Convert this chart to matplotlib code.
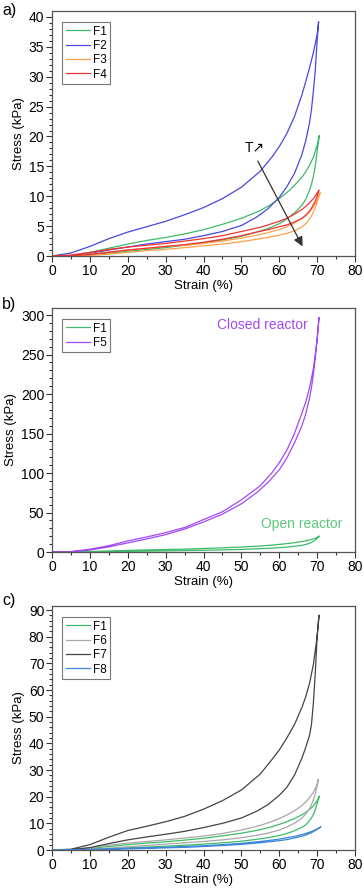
import matplotlib
matplotlib.use('Agg')
import matplotlib.pyplot as plt
import numpy as np

plt.rcParams['font.family'] = ['Liberation Sans', 'DejaVu Sans']

# strain grids (%) shared by all loading / unloading branches
load_strain = [0, 5, 10, 15, 20, 25, 30, 35, 40, 45, 50, 55, 58, 60, 62, 64, 66, 67, 68, 69, 70]
unload_strain = [70, 69.5, 69, 68.5, 68, 67, 66, 64, 62, 60, 57, 54, 50, 45, 40, 35, 30, 25,
                 20, 15, 10, 5, 0]

# peak point (strain, stress) of each sample
peaks = {
    'F1': (70.6, 20.2), 'F2': (70.4, 39.2), 'F3': (70.8, 10.6), 'F4': (70.5, 11.0),
    'F5': (70.5, 297.0), 'F6': (70.3, 26.5), 'F7': (70.5, 88.0), 'F8': (71.0, 8.7),
}

# stress (kPa) on loading
load_stress = {
    'F1': [0, 0.1, 0.6, 1.3, 2.0, 2.6, 3.1, 3.7, 4.4, 5.3, 6.3, 7.6, 8.7, 9.6, 10.6, 11.8, 13.2,
           14.1, 15.2, 16.5, 18.5],
    'F2': [0, 0.5, 1.6, 2.9, 4.0, 4.9, 5.8, 6.9, 8.1, 9.6, 11.5, 14.2, 16.5, 18.3, 20.5, 23.3,
           27.0, 29.2, 31.5, 34.0, 37.0],
    'F3': [0, 0.05, 0.3, 0.7, 1.0, 1.3, 1.6, 1.8, 2.1, 2.5, 3.0, 3.6, 4.1, 4.4, 4.9, 5.5, 6.3,
           6.8, 7.4, 8.2, 9.4],
    'F4': [0, 0.15, 0.6, 1.1, 1.5, 1.8, 2.1, 2.5, 2.9, 3.4, 4.1, 4.8, 5.4, 5.8, 6.3, 7.0, 7.8,
           8.3, 8.9, 9.6, 10.5],
    'F5': [0, 0.5, 3.5, 8, 14, 19, 24.5, 31, 41, 51, 66, 84, 100, 113, 129, 150, 176, 190, 208,
           232, 268],
    'F6': [0, 0.1, 0.8, 1.8, 2.6, 3.2, 3.8, 4.5, 5.2, 6.2, 7.5, 9.2, 10.7, 11.8, 13.1, 14.7,
           16.7, 18.0, 19.6, 21.6, 24.5],
    'F7': [0, 0.3, 2.0, 4.8, 7.3, 8.9, 10.6, 12.6, 15.3, 18.5, 22.5, 28.5, 33.8, 37.5, 42, 47,
           53.5, 57.5, 62.5, 69.5, 80],
    'F8': [0, 0.05, 0.2, 0.45, 0.65, 0.85, 1.05, 1.3, 1.6, 2.0, 2.5, 3.2, 3.7, 4.1, 4.6, 5.1,
           5.8, 6.2, 6.7, 7.2, 7.9],
}

# stress (kPa) on unloading
unload_stress = {
    'F1': [17.5, 15.0, 13.3, 12.0, 11.0, 9.5, 8.5, 7.2, 6.2, 5.4, 4.6, 4.0, 3.3, 2.7, 2.2, 1.8,
           1.4, 1.1, 0.8, 0.5, 0.2, 0.05, 0],
    'F2': [36, 31, 27.5, 24.5, 22.3, 19.3, 17.0, 13.8, 11.6, 9.8, 7.9, 6.5, 5.1, 4.1, 3.4, 2.8,
           2.4, 2.0, 1.5, 1.0, 0.4, 0.05, 0],
    'F3': [9.0, 8.0, 7.3, 6.7, 6.2, 5.4, 4.9, 4.2, 3.8, 3.5, 3.1, 2.8, 2.4, 2.0, 1.7, 1.4, 1.1,
           0.9, 0.6, 0.3, 0.1, 0, 0],
    'F4': [10.0, 9.2, 8.6, 8.0, 7.5, 6.8, 6.3, 5.7, 5.2, 4.9, 4.4, 4.0, 3.4, 2.8, 2.3, 1.9, 1.6,
           1.3, 1.0, 0.6, 0.25, 0.05, 0],
    'F5': [270, 245, 225, 208, 195, 175, 160, 138, 119, 104, 88, 75, 61, 48, 38, 29, 22, 16.5,
           11.5, 6.5, 2.5, 0.3, 0],
    'F6': [24, 21, 18.8, 17, 15.5, 13.5, 12.0, 10.0, 8.6, 7.5, 6.3, 5.5, 4.6, 3.8, 3.2, 2.7, 2.2,
           1.7, 1.2, 0.7, 0.3, 0.05, 0],
    'F7': [80, 66, 55, 47, 43, 38.5, 34.5, 28, 23.5, 20.5, 17, 14.5, 12.0, 10.0, 8.4, 7.0, 5.9,
           4.9, 3.8, 2.4, 0.9, 0.1, 0],
    'F8': [7.8, 7.3, 6.9, 6.5, 6.2, 5.6, 5.2, 4.5, 3.9, 3.5, 3.0, 2.6, 2.1, 1.7, 1.3, 1.0, 0.8,
           0.6, 0.4, 0.2, 0.05, 0, 0],
}

colors = {
    'F1': '#3dbb6a', 'F2': '#4848dc', 'F3': '#ffa24a', 'F4': '#ee3333',
    'F5': '#a24af0', 'F6': '#a8a8a8', 'F7': '#444444', 'F8': '#3d86d6',
}

panels = [
    ('a)', ['F1', 'F2', 'F3', 'F4'], 41, 5, 1),
    ('b)', ['F1', 'F5'], 309, 50, 10),
    ('c)', ['F1', 'F6', 'F7', 'F8'], 91.5, 10, 2),
]

W, H = 364, 892
fig = plt.figure(figsize=(W / 100, H / 100), dpi=100)

# axes boxes in pixels: left, top, right, bottom
boxes = [(52, 11, 355, 256), (52, 308, 355, 552), (52, 606, 355, 850)]
label_y = [10, 305, 600]

axes = []
for (tag, samples, ytop, ymaj, ymin), (l, t, r, b), ly in zip(panels, boxes, label_y):
    ax = fig.add_axes([l / W, 1 - b / H, (r - l) / W, (b - t) / H])
    for s in samples:
        px, py = peaks[s]
        x = load_strain + [px] + unload_strain
        y = load_stress[s] + [py] + unload_stress[s]
        ax.plot(x, y, color=colors[s], lw=0.9, label=s)
    ax.set_xlim(0, 80)
    ax.set_ylim(0, ytop)
    ax.set_xticks(np.arange(0, 81, 10))
    ax.set_xticks(np.arange(0, 81, 5), minor=True)
    ax.set_yticks(np.arange(0, ytop, ymaj))
    ax.set_yticks(np.arange(0, ytop, ymin), minor=True)
    ax.tick_params(which='both', direction='out', top=False, right=False,
                   labelsize=10, color='#333333', width=0.8, pad=1.5)
    ax.tick_params(which='major', length=4)
    ax.tick_params(which='minor', length=2)
    for sp in ax.spines.values():
        sp.set_color('#555555')
        sp.set_linewidth(0.9)
    ax.set_xlabel('Strain (%)', fontsize=9.5, labelpad=2)
    ax.set_ylabel('Stress (kPa)', fontsize=9.5, labelpad=3)
    leg = ax.legend(loc='upper left', bbox_to_anchor=(10 / (r - l), 1 - 11 / (b - t)),
                    borderaxespad=0, fontsize=8.5, fancybox=False, framealpha=1,
                    edgecolor='#777777', handlelength=2.1, handletextpad=0.2,
                    labelspacing=0.2, borderpad=0.3)
    leg.get_frame().set_linewidth(0.8)
    fig.text(2 / W, 1 - ly / H, tag, fontsize=11.5, va='center', ha='left')
    axes.append(ax)

# temperature arrow in panel a
axes[0].annotate('', xy=(66.5, 1.2), xytext=(54.0, 16.3),
                 arrowprops=dict(arrowstyle='-|>', color='#333333', lw=0.9,
                                 mutation_scale=14))
axes[0].text(53.5, 18.0, 'T\u2197', fontsize=10, ha='center', va='center')

# reactor annotations in panel b
axes[1].text(55.5, 287, 'Closed reactor', fontsize=10, color=colors['F5'],
             ha='center', va='center')
axes[1].text(66.0, 35, 'Open reactor', fontsize=10, color='#5cc87e',
             ha='center', va='center')

fig.savefig('out.png', dpi=100)
